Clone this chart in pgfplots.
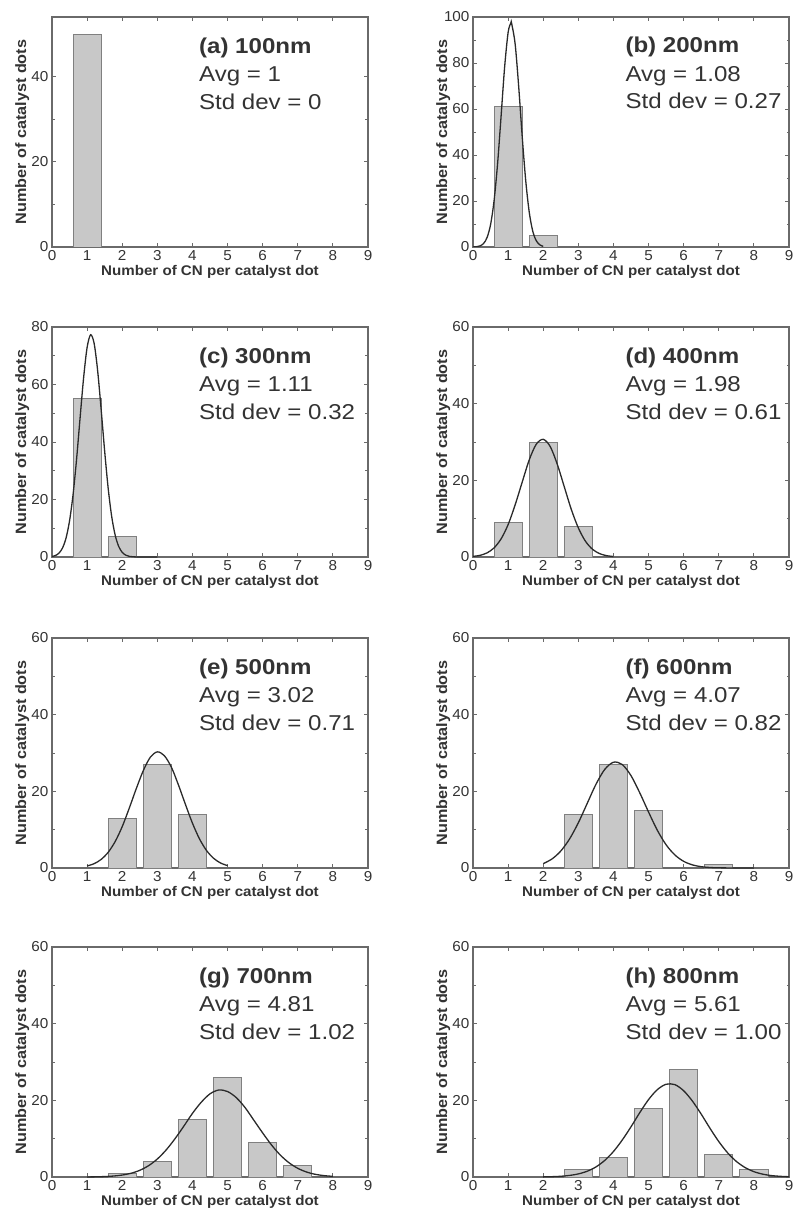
\documentclass[border=0pt]{standalone}
\usepackage{fontspec}
\setmainfont{Liberation Sans}
\newfontfamily\tickfont[FakeStretch=1.06]{Liberation Sans}
\newfontfamily\lblfont[FakeStretch=1.08]{Liberation Sans}
\newfontfamily\annfont[FakeStretch=1.12]{Liberation Sans}
\usepackage{pgfplots}
\pgfplotsset{compat=1.18}

\definecolor{txt}{HTML}{333333}
\definecolor{axln}{HTML}{6A6A6A}
\definecolor{barfill}{HTML}{C8C8C8}
\definecolor{baredge}{HTML}{808080}
\definecolor{fitln}{HTML}{2A2A2A}

\pgfplotsset{
  hist/.style={
    scale only axis, width=316pt, height=230pt, anchor=south west,
    xmin=0, xmax=9, ymin=0, xtick={0,...,9},
    minor y tick num=1,
    tick align=inside,
    major tick length=4pt, minor tick length=2.5pt,
    axis line style={axln, line width=1.1pt},
    every tick/.style={axln, line width=0.9pt},
    tick label style={font=\tickfont\fontsize{14.4}{14.4}\selectfont, text=txt},
    /pgf/number format/assume math mode=true,
    xlabel={Number of CN per catalyst dot},
    ylabel={Number of catalyst dots},
    xlabel style={at={(axis description cs:0.5,-0.126)}, anchor=base,
      font=\lblfont\bfseries\fontsize{14}{14}\selectfont, text=txt},
    ylabel style={at={(axis description cs:-0.082,0.5)}, anchor=base,
      font=\lblfont\bfseries\fontsize{15}{15}\selectfont, text=txt},
  },
  bars/.style={ybar, bar width=0.8, bar shift=0pt, fill=barfill, draw=baredge, line width=0.8pt},
  fit/.style={fitln, line width=1.3pt, smooth, mark=none},
}

% label block: x position (rel), title, avg, std dev
\newcommand{\annot}[4]{%
  \node[anchor=base west, inner sep=0, yshift=-36pt, text=txt, font=\annfont\bfseries\fontsize{21.5}{22}\selectfont] at (rel axis cs:#1,1) {#2};
  \node[anchor=base west, inner sep=0, yshift=-64.5pt, text=txt, font=\annfont\fontsize{21.5}{22}\selectfont] at (rel axis cs:#1,1) {Avg = #3};
  \node[anchor=base west, inner sep=0, yshift=-92pt, text=txt, font=\annfont\fontsize{21.5}{22}\selectfont] at (rel axis cs:#1,1) {Std dev = #4};
}

\begin{document}
\begin{tikzpicture}
\path[use as bounding box] (0,0) rectangle (794pt,-1214pt);

% (a) 100nm
\begin{axis}[hist, at={(52pt,-247pt)}, ymax=54, ytick={0,20,40}]
\addplot[bars] coordinates {(1,50)};
\annot{0.465}{(a) 100nm}{1}{0}
\end{axis}

% (b) 200nm
\begin{axis}[hist, at={(473pt,-247pt)}, ymax=100, ytick={0,20,...,100}]
\addplot[bars] coordinates {(1,61) (2,5)};
\addplot[fit] coordinates {
(0,0.03) (0.1,0.13) (0.2,0.48) (0.3,1.50) (0.4,4.09) (0.5,9.71) (0.6,20.1)
(0.7,36.2) (0.8,56.9) (0.9,78.1) (1.0,93.3) (1.08,97.5) (1.1,97.2) (1.2,88.3)
(1.3,70.0) (1.4,48.3) (1.5,29.1) (1.6,15.3) (1.7,6.98) (1.8,2.78) (1.9,0.97) (2.0,0.29)};
\annot{0.482}{(b) 200nm}{1.08}{0.27}
\end{axis}

% (c) 300nm
\begin{axis}[hist, at={(52pt,-557pt)}, ymax=80, ytick={0,20,...,80}]
\addplot[bars] coordinates {(1,55) (2,7)};
\addplot[fit] coordinates {
(0,0.19) (0.1,0.53) (0.2,1.36) (0.3,3.14) (0.4,6.60) (0.5,12.6) (0.6,21.7)
(0.7,34.0) (0.8,48.4) (0.9,62.3) (1.0,72.9) (1.1,77.3) (1.2,74.3) (1.3,64.8)
(1.4,51.3) (1.5,36.8) (1.6,23.9) (1.7,14.1) (1.8,7.56) (1.9,3.67) (2.0,1.62)
(2.1,0.65) (2.2,0.23) (2.3,0.08) (2.5,0.01) (3.0,0)};
\annot{0.465}{(c) 300nm}{1.11}{0.32}
\end{axis}

% (d) 400nm
\begin{axis}[hist, at={(473pt,-557pt)}, ymax=60, ytick={0,20,...,60}]
\addplot[bars] coordinates {(1,9) (2,30) (3,8)};
\addplot[fit] coordinates {
(0,0.16) (0.2,0.43) (0.4,1.07) (0.6,2.38) (0.8,4.73) (1.0,8.45) (1.2,13.6)
(1.4,19.5) (1.6,25.3) (1.8,29.4) (2.0,30.7) (2.2,28.8) (2.4,24.2) (2.6,18.3)
(2.8,12.4) (3.0,7.59) (3.2,4.15) (3.4,2.04) (3.6,0.90) (3.8,0.36) (4.0,0.13)};
\annot{0.482}{(d) 400nm}{1.98}{0.61}
\end{axis}

% (e) 500nm
\begin{axis}[hist, at={(52pt,-868pt)}, ymax=60, ytick={0,20,...,60}]
\addplot[bars] coordinates {(2,13) (3,27) (4,14)};
\addplot[fit] coordinates {
(1.0,0.53) (1.2,1.13) (1.4,2.24) (1.6,4.10) (1.8,6.92) (2.0,10.8) (2.2,15.6)
(2.4,20.7) (2.6,25.4) (2.8,28.9) (3.0,30.3) (3.2,29.3) (3.4,26.3) (3.6,21.7)
(3.8,16.6) (4.0,11.7) (4.2,7.61) (4.4,4.58) (4.6,2.55) (4.8,1.31) (5.0,0.62)};
\annot{0.465}{(e) 500nm}{3.02}{0.71}
\end{axis}

% (f) 600nm
\begin{axis}[hist, at={(473pt,-868pt)}, ymax=60, ytick={0,20,...,60}]
\addplot[bars] coordinates {(3,14) (4,27) (5,15) (7,1)};
\addplot[fit] coordinates {
(2.0,1.14) (2.25,2.36) (2.5,4.43) (2.75,7.58) (3.0,11.8) (3.25,16.8) (3.5,21.8)
(3.75,25.7) (4.0,27.6) (4.25,27.0) (4.5,24.1) (4.75,19.6) (5.0,14.6) (5.25,9.84)
(5.5,6.05) (5.75,3.40) (6.0,1.74) (6.25,0.81) (6.5,0.34) (6.75,0.13) (7.0,0.05)
(7.5,0.01) (8.0,0)};
\annot{0.482}{(f) 600nm}{4.07}{0.82}
\end{axis}

% (g) 700nm
\begin{axis}[hist, at={(52pt,-1177pt)}, ymax=60, ytick={0,20,...,60}]
\addplot[bars] coordinates {(2,1) (3,4) (4,15) (5,26) (6,9) (7,3)};
\addplot[fit] coordinates {
(1.0,0.02) (1.25,0.05) (1.5,0.12) (1.75,0.25) (2.0,0.51) (2.25,0.97) (2.5,1.75)
(2.75,2.95) (3.0,4.70) (3.25,7.05) (3.5,9.95) (3.75,13.2) (4.0,16.6) (4.25,19.5)
(4.5,21.7) (4.75,22.7) (5.0,22.3) (5.25,20.7) (5.5,18.1) (5.75,14.8) (6.0,11.5)
(6.25,8.38) (6.5,5.75) (6.75,3.72) (7.0,2.27) (7.25,1.30) (7.5,0.70) (7.75,0.36) (8.0,0.17)};
\annot{0.465}{(g) 700nm}{4.81}{1.02}
\end{axis}

% (h) 800nm
\begin{axis}[hist, at={(473pt,-1177pt)}, ymax=60, ytick={0,20,...,60}]
\addplot[bars] coordinates {(3,2) (4,5) (5,18) (6,28) (7,6) (8,2)};
\addplot[fit] coordinates {
(2.0,0.04) (2.25,0.09) (2.5,0.19) (2.75,0.41) (3.0,0.81) (3.25,1.50) (3.5,2.62)
(3.75,4.31) (4.0,6.65) (4.25,9.64) (4.5,13.1) (4.75,16.8) (5.0,20.2) (5.25,22.8)
(5.5,24.2) (5.75,24.1) (6.0,22.5) (6.25,19.8) (6.5,16.4) (6.75,12.7) (7.0,9.25)
(7.25,6.33) (7.5,4.07) (7.75,2.46) (8.0,1.40) (8.25,0.75) (8.5,0.37) (8.75,0.18) (9.0,0.08)};
\annot{0.482}{(h) 800nm}{5.61}{1.00}
\end{axis}

\end{tikzpicture}
\end{document}
